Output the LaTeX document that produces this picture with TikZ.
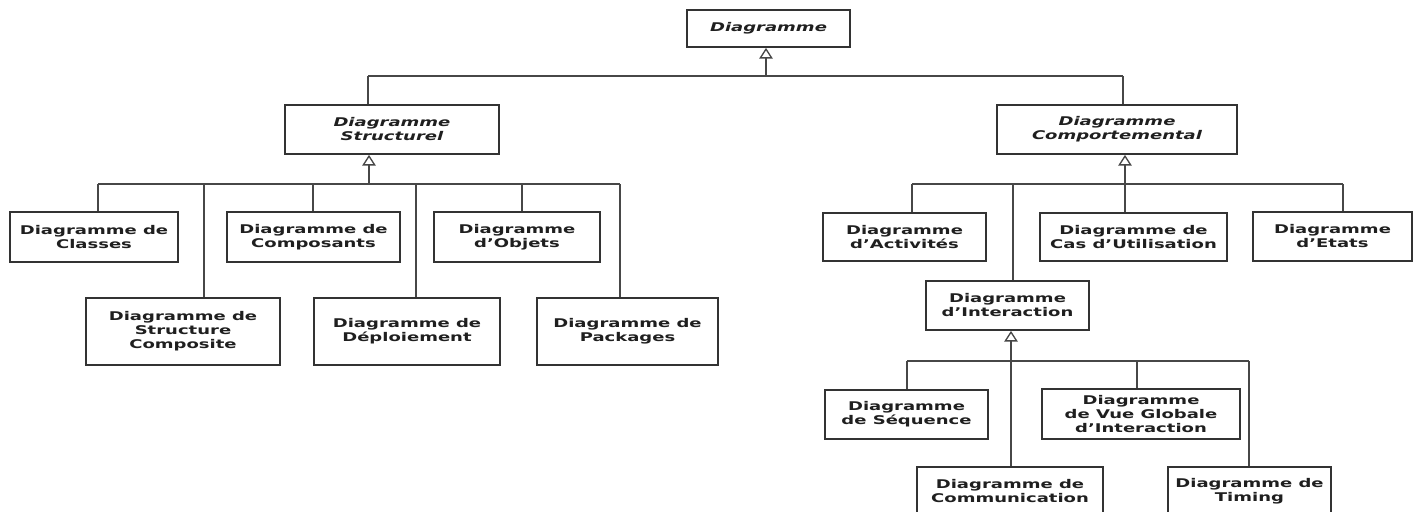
\documentclass[tikz,border=0pt]{standalone}
\usepackage{fontspec}
\usetikzlibrary{arrows.meta}
\newfontfamily\umlfont[FakeStretch=1.5]{DejaVu Sans}

\tikzset{
  umlbox/.style={draw=black!80, line width=1.3pt, fill=white, align=center,
    inner sep=0pt, text=black!88,
    font=\umlfont\bfseries\fontsize{9}{10.5}\selectfont},
  abstractbox/.style={umlbox, font=\umlfont\bfseries\itshape\fontsize{9}{10.5}\selectfont},
  sz/.style 2 args={minimum width=#1*0.75pt, minimum height=#2*0.75pt},
  link/.style={draw=black!72, line width=1.4pt},
  inherit/.style={link, -{Triangle[open, length=8pt, width=10pt, line width=1pt]}},
}

\begin{document}
\begin{tikzpicture}[x=0.75pt, y=-0.75pt]
\useasboundingbox (0,0) rectangle (1422,511);
\clip (0,0) rectangle (1422,511);

% ---- abstract root and the two families
\node[abstractbox, sz={163}{37}] (root) at (768.5,28.5) {Diagramme};
\node[abstractbox, sz={214}{49}] (struct) at (392,129.5) {Diagramme\\Structurel};
\node[abstractbox, sz={240}{49}] (behav) at (1117,129.5) {Diagramme\\Comportemental};

% ---- structural diagrams
\node[umlbox, sz={168}{50}] (classes) at (94,237) {Diagramme de\\Classes};
\node[umlbox, sz={173}{50}] (compos) at (313.5,237) {Diagramme de\\Composants};
\node[umlbox, sz={166}{50}] (objets) at (517,237) {Diagramme\\d’Objets};
\node[umlbox, sz={194}{67}] (compo) at (183,331.5) {Diagramme de\\Structure\\Composite};
\node[umlbox, sz={186}{67}] (deploy) at (407,331.5) {Diagramme de\\Déploiement};
\node[umlbox, sz={181}{67}] (pkg) at (627.5,331.5) {Diagramme de\\Packages};

% ---- behavioural diagrams
\node[umlbox, sz={163}{48}] (activ) at (904.5,237) {Diagramme\\d’Activités};
\node[umlbox, sz={187}{48}] (usecase) at (1133.5,237) {Diagramme de\\Cas d’Utilisation};
\node[umlbox, sz={159}{49}] (etats) at (1332.5,236.5) {Diagramme\\d’Etats};
\node[umlbox, sz={163}{49}] (interac) at (1007.5,305.5) {Diagramme\\d’Interaction};

% ---- interaction diagrams
\node[umlbox, sz={163}{49}] (seq) at (906.5,414.5) {Diagramme\\de Séquence};
\node[umlbox, sz={198}{50}] (overview) at (1141,414) {Diagramme\\de Vue Globale\\d’Interaction};
\node[umlbox, sz={186}{49}] (commu) at (1010,491.5) {Diagramme de\\Communication};
\node[umlbox, sz={163}{49}] (timing) at (1249.5,491.5) {Diagramme de\\Timing};

% ---- bus points of the generalisation trees
\coordinate (rootL) at (368,76);
\coordinate (rootM) at (766,76);
\coordinate (rootR) at (1123,76);

\coordinate (sL) at (98,184);
\coordinate (sM) at (369,184);
\coordinate (sR) at (620,184);
\coordinate (s2) at (204,184);
\coordinate (s3) at (313,184);
\coordinate (s4) at (416,184);
\coordinate (s5) at (522,184);

\coordinate (bL) at (912,184);
\coordinate (bI) at (1013,184);
\coordinate (bM) at (1125,184);
\coordinate (bR) at (1343,184);

\coordinate (iL) at (907,361);
\coordinate (iM) at (1011,361);
\coordinate (iV) at (1137,361);
\coordinate (iR) at (1249,361);

% ---- root level
\draw[link] (rootL) -- (rootR);
\draw[inherit] (rootM) -- (rootM |- root.south);
\draw[link] (rootL) -- (rootL |- struct.north);
\draw[link] (rootR) -- (rootR |- behav.north);

% ---- structural tree
\draw[link] (sL) -- (sR);
\draw[inherit] (sM) -- (sM |- struct.south);
\draw[link] (sL) -- (sL |- classes.north);
\draw[link] (s2) -- (s2 |- compo.north);
\draw[link] (s3) -- (s3 |- compos.north);
\draw[link] (s4) -- (s4 |- deploy.north);
\draw[link] (s5) -- (s5 |- objets.north);
\draw[link] (sR) -- (sR |- pkg.north);

% ---- behavioural tree
\draw[link] (bL) -- (bR);
\draw[inherit] (bM) -- (bM |- behav.south);
\draw[link] (bL) -- (bL |- activ.north);
\draw[link] (bI) -- (bI |- interac.north);
\draw[link] (bM) -- (bM |- usecase.north);
\draw[link] (bR) -- (bR |- etats.north);

% ---- interaction tree
\draw[link] (iL) -- (iR);
\draw[inherit] (iM) -- (iM |- interac.south);
\draw[link] (iL) -- (iL |- seq.north);
\draw[link] (iM) -- (iM |- commu.north);
\draw[link] (iV) -- (iV |- overview.north);
\draw[link] (iR) -- (iR |- timing.north);
\end{tikzpicture}
\end{document}
